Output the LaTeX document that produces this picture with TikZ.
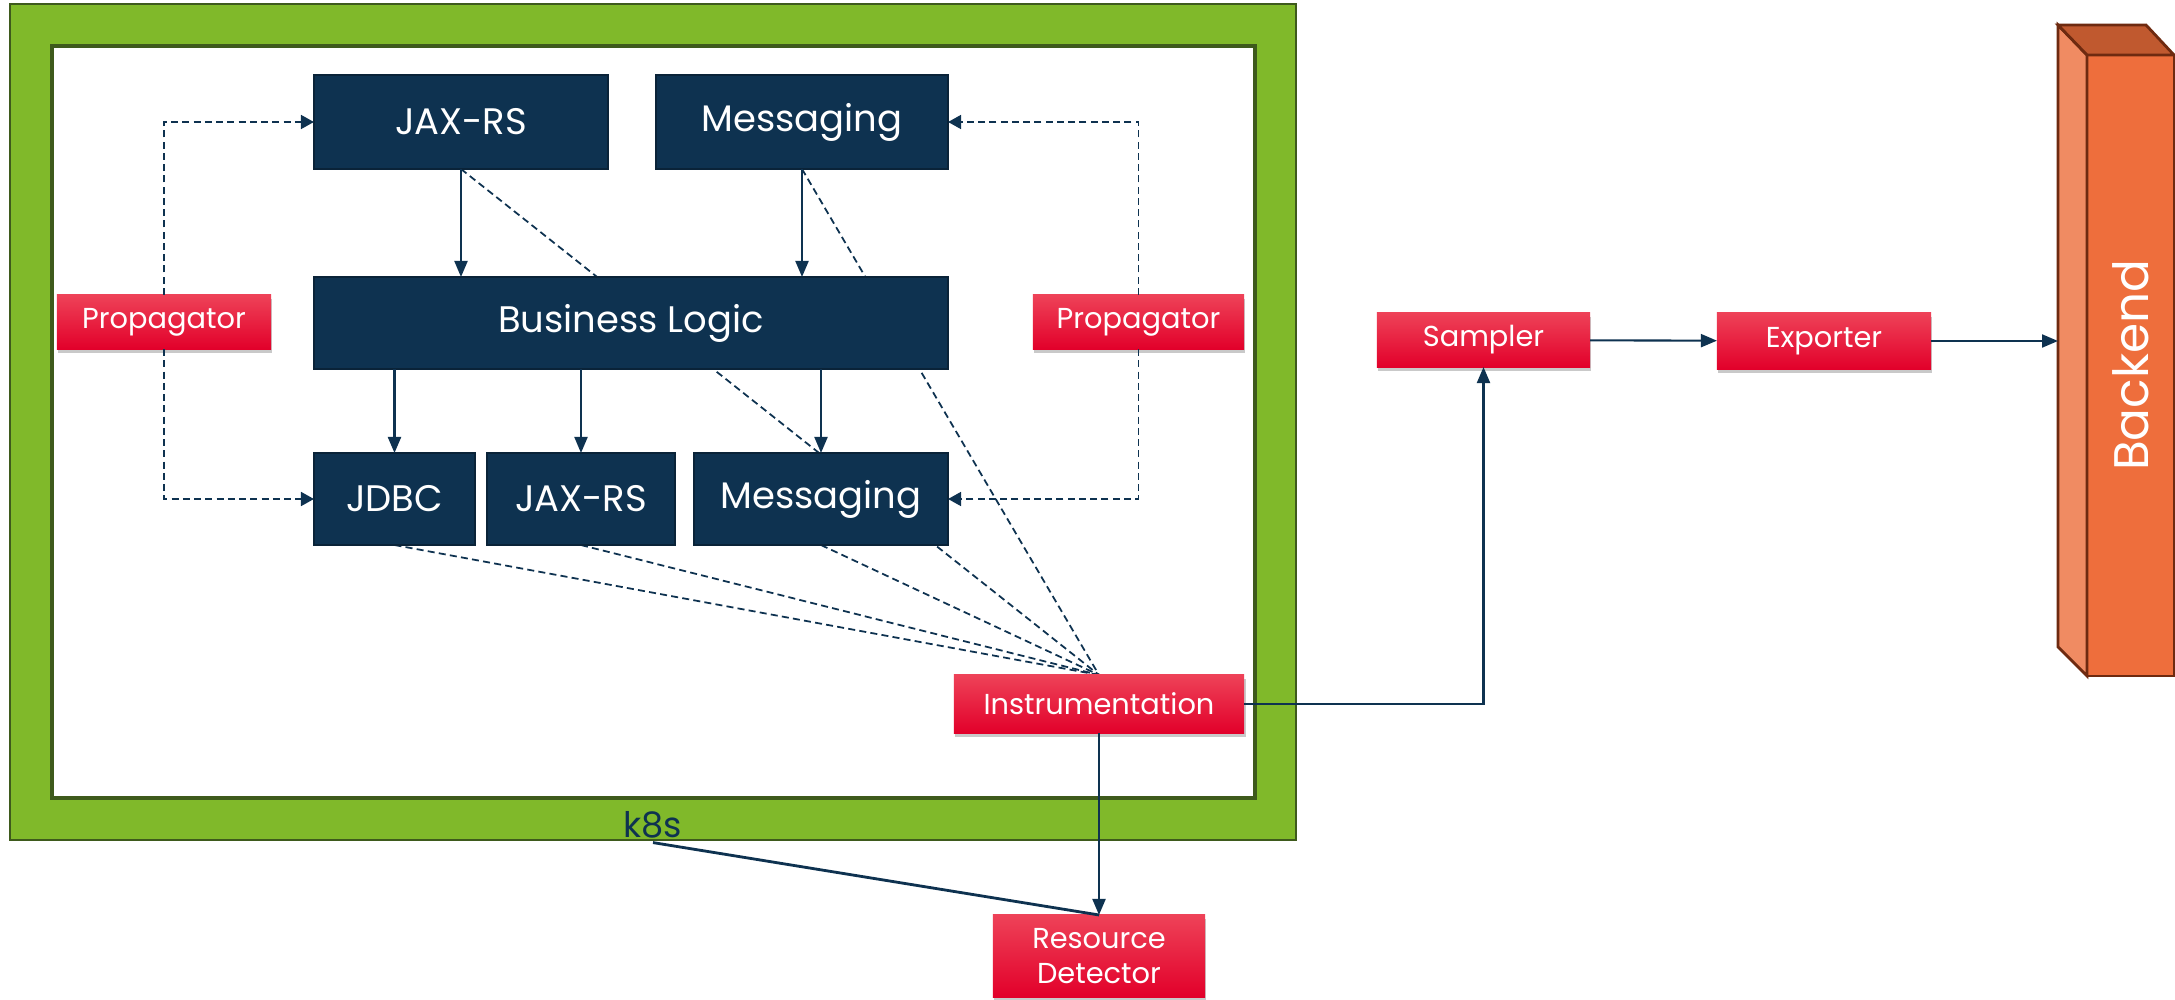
\documentclass[tikz,border=0pt]{standalone}
\usepackage{fontspec}
\setmainfont{Poppins}
\usepackage{xcolor}
\usetikzlibrary{positioning, calc, arrows.meta, backgrounds, shadows}

\definecolor{navy}{HTML}{0E3250}
\definecolor{navyline}{HTML}{0A2338}
\definecolor{redtop}{HTML}{EE4258}
\definecolor{redbot}{HTML}{E2002A}
\definecolor{kgreen}{HTML}{80B92A}
\definecolor{kgreenline}{HTML}{3E5A1C}
\definecolor{bkfront}{HTML}{EE6E3C}
\definecolor{bkleft}{HTML}{F08B62}
\definecolor{bktop}{HTML}{C0592F}
\definecolor{bkedge}{HTML}{6E2A10}

\tikzset{
  svc/.style={draw=navyline, fill=navy, text=white, font=\fontsize{10.5}{12}\selectfont, inner sep=0pt, outer sep=0pt, line width=0.6pt},
  tool/.style={top color=redtop, bottom color=redbot, text=white, font=\fontsize{8.2}{10}\selectfont, inner sep=0pt, outer sep=0pt, align=center, drop shadow={shadow xshift=0.4pt, shadow yshift=-1.2pt, opacity=0.35, fill=black!60}},
  flow/.style={draw=navy, line width=0.6pt, -{Triangle[length=1.6mm,width=1.3mm]}},
  trace/.style={draw=navy, line width=0.5pt, dash pattern=on 2pt off 1.2pt},
  prop/.style={trace, -{Triangle[length=1.3mm,width=1.4mm]}},
}

\begin{document}
\begin{tikzpicture}[x=0.01cm, y=-0.01cm]
  \useasboundingbox (0,0) rectangle (2175,1000);

  % services inside the pod
  \node[svc, minimum width=2.94cm, minimum height=0.94cm] (jaxin) at (461,122) {JAX-RS};
  \node[svc, minimum width=2.92cm, minimum height=0.94cm] (msgin) at (802,122) {Messaging};
  \node[svc, minimum width=6.34cm, minimum height=0.92cm] (logic) at (631,323) {Business Logic};
  \node[svc, minimum width=1.61cm, minimum height=0.92cm] (jdbc) at (394.5,499) {JDBC};
  \node[svc, minimum width=1.88cm, minimum height=0.92cm] (jaxout) at (581,499) {JAX-RS};
  \node[svc, minimum width=2.54cm, minimum height=0.92cm] (msgout) at (821,499) {Messaging};

  \draw[flow] (jaxin.south) -- (jaxin.south |- logic.north);
  \draw[flow] (msgin.south) -- (msgin.south |- logic.north);
  \draw[flow] (jdbc.north |- logic.south) -- (jdbc.north);
  \draw[flow] (jaxout.north |- logic.south) -- (jaxout.north);
  \draw[flow] (msgout.north |- logic.south) -- (msgout.north);

  % propagators
  \node[tool, minimum width=2.14cm, minimum height=0.54cm] (propl) at (164,322) {Propagator};
  \node[tool, minimum width=2.11cm, minimum height=0.54cm] (propr) at (1138.5,322) {Propagator};

  \draw[prop] (propl.north) |- (jaxin.west);
  \draw[prop] (propl.south) |- (jdbc.west);
  \draw[prop] (propr.north) |- (msgin.east);
  \draw[prop] (propr.south) |- (msgout.east);

  % sdk parts
  \node[tool, minimum width=2.90cm, minimum height=0.58cm] (instr) at (1099,704) {Instrumentation};
  \node[tool, minimum width=2.12cm, minimum height=0.82cm] (resdet) at (1099,956) {Resource\\Detector};
  \node[tool, minimum width=2.13cm, minimum height=0.54cm] (sampler) at (1483.5,340) {Sampler};
  \node[tool, minimum width=2.14cm, minimum height=0.56cm] (exporter) at (1824,341) {Exporter};

  \node[text=navy, font=\fontsize{10}{12}\selectfont, inner sep=1pt] (k8s) at (653,825) {k8s};

  % backend column
  \draw[fill=bkfront, draw=bkedge, line width=0.8pt] (2087,55) rectangle (2174,676);
  \draw[fill=bkleft, draw=bkedge, line width=0.8pt] (2058,25) -- (2087,55) -- (2087,676) -- (2058,647) -- cycle;
  \draw[fill=bktop, draw=bkedge, line width=0.8pt] (2058,25) -- (2146,25) -- (2174,55) -- (2087,55) -- cycle;
  \node[rotate=90, text=white, font=\fontsize{13.8}{16}\selectfont] (backend) at (2130.5,365.5) {Backend};
  \coordinate (bkside) at (2058,341);

  \draw[flow] (instr) -- (resdet);
  \draw[flow] (instr.east) -| (sampler.south);
  \draw[flow] (sampler) -- (exporter);
  \draw[flow] (exporter) -- (bkside);
  \draw[navy, line width=0.8pt] (k8s.south) -- (resdet.north);

  \begin{scope}[on background layer]
    \fill[white] (0,0) rectangle (2175,1000);
    \draw[fill=kgreen, draw=kgreenline, line width=0.8pt] (10,4) rectangle (1296,840);
    \draw[fill=white, draw=kgreenline, line width=1.2pt] (52,46) rectangle (1255,798);
    \foreach \src in {jaxin, msgin, jdbc, jaxout, msgout}
      \draw[trace] (\src.south) -- (instr.north);
  \end{scope}
\end{tikzpicture}
\end{document}
